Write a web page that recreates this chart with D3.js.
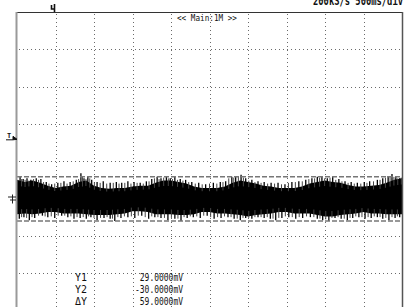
<!DOCTYPE html>
<html>
<head>
<meta charset="utf-8">
<script src="https://cdn.jsdelivr.net/npm/d3@7/dist/d3.min.js"></script>
<style>
  body { margin: 0; background: #fff; }
  svg { display: block; }
  text { font-family: "DejaVu Sans Mono", monospace; fill: #111; }
</style>
</head>
<body>
<div id="scope"></div>
<script>
// Screen settings
const timeDiv = 500;          // ms per division
const voltDiv = 50;           // mV per division
const hDivs = 10;
const cursorY1 = 29;          // mV
const cursorY2 = -30;         // mV
const triggerLevel = 82;      // mV

// Noise band, one sample every 100 ms (upper / lower edge of the dense core, mV)
const coreTop = [25, 22, 24, 21, 17, 14, 16, 17, 22, 24, 17, 14, 13, 14, 14, 16, 17, 17, 21, 24,
    24, 22, 20, 16, 14, 14, 14, 16, 21, 24, 22, 20, 17, 16, 14, 14, 14, 16, 20, 22,
    24, 22, 21, 18, 16, 16, 17, 18, 21, 25, 27];
const coreBot = [-21, -20, -21, -20, -18, -18, -20, -20, -20, -21, -22, -22, -22, -21, -20, -17, -17, -18, -21, -21,
    -21, -22, -22, -21, -18, -18, -20, -20, -21, -22, -24, -22, -21, -20, -18, -18, -20, -20, -20, -22,
    -24, -24, -22, -21, -20, -18, -20, -20, -21, -21, -21];

// Tall spikes sticking out of the band: [time ms, mV]
const spikesUp = [[40, 29], [80, 26], [130, 27], [180, 25], [250, 27], [310, 26], [380, 22], [450, 19],
    [530, 21], [610, 23], [690, 22], [770, 25], [830, 34], [870, 27], [920, 29], [970, 25], [1040, 22],
    [1120, 23], [1210, 21], [1290, 22], [1360, 21], [1440, 23], [1520, 22], [1600, 21], [1680, 23],
    [1750, 26], [1820, 29], [1870, 27], [1940, 30], [1990, 27], [2050, 29], [2120, 26], [2190, 25],
    [2270, 22], [2360, 21], [2450, 19], [2550, 21], [2640, 22], [2710, 23], [2790, 29], [2840, 30],
    [2910, 32], [2970, 27], [3050, 25], [3130, 23], [3210, 22], [3300, 21], [3390, 21], [3480, 19],
    [3570, 22], [3660, 23], [3750, 25], [3830, 27], [3900, 29], [3960, 30], [4030, 27], [4100, 29],
    [4180, 26], [4260, 23], [4340, 22], [4420, 21], [4510, 22], [4580, 23], [4680, 25], [4750, 27],
    [4820, 30], [4870, 33], [4920, 29], [4970, 27]];
const spikesDown = [[30, -27], [90, -25], [160, -29], [230, -26], [330, -23], [400, -25], [490, -26],
    [580, -23], [660, -25], [740, -27], [820, -26], [900, -27], [960, -25], [1040, -29], [1130, -26],
    [1210, -27], [1270, -30], [1350, -26], [1440, -25], [1530, -26], [1620, -23], [1710, -27], [1790, -25],
    [1870, -26], [1960, -29], [2050, -27], [2130, -30], [2210, -26], [2290, -25], [2380, -26], [2470, -23],
    [2560, -27], [2650, -26], [2740, -25], [2820, -27], [2900, -29], [2970, -26], [3050, -27], [3130, -25],
    [3210, -26], [3290, -27], [3360, -29], [3440, -26], [3530, -25], [3620, -27], [3710, -26], [3810, -25],
    [3900, -27], [3970, -29], [4050, -30], [4130, -26], [4210, -27], [4290, -29], [4360, -26], [4440, -25],
    [4520, -27], [4600, -26], [4680, -25], [4750, -27], [4830, -29], [4910, -26], [4970, -25]];

// Shorter spikes in between
const spikesUp2 = [[60, 26], [105, 25], [155, 24], [215, 26], [280, 25], [345, 22], [415, 20], [490, 20],
    [570, 21], [650, 20], [730, 23], [800, 26], [850, 29], [895, 26], [945, 27], [1005, 22], [1080, 21],
    [1165, 20], [1250, 21], [1325, 20], [1400, 21], [1480, 20], [1560, 21], [1640, 20], [1715, 23],
    [1785, 27], [1845, 26], [1905, 28], [1965, 27], [2020, 26], [2085, 25], [2155, 24], [2230, 22],
    [2315, 20], [2405, 19], [2500, 20], [2595, 20], [2675, 22], [2750, 27], [2815, 28], [2875, 29],
    [2940, 28], [3010, 24], [3090, 22], [3170, 21], [3255, 20], [3345, 20], [3435, 19], [3525, 21],
    [3615, 22], [3705, 23], [3790, 26], [3865, 27], [3930, 28], [3995, 27], [4065, 28], [4140, 25],
    [4220, 23], [4300, 21], [4380, 20], [4465, 20], [4545, 21], [4630, 23], [4715, 25], [4785, 28],
    [4845, 29], [4895, 29], [4945, 27], [4990, 28]];
const spikesDown2 = [[60, -25], [125, -26], [195, -25], [280, -23], [365, -24], [445, -24], [535, -23],
    [620, -23], [700, -24], [780, -25], [860, -25], [930, -24], [1000, -26], [1085, -26], [1170, -25],
    [1240, -27], [1310, -25], [1395, -24], [1485, -24], [1575, -23], [1665, -25], [1750, -24], [1830, -25],
    [1915, -26], [2005, -26], [2090, -27], [2170, -25], [2250, -24], [2335, -24], [2425, -23], [2515, -25],
    [2605, -25], [2695, -24], [2780, -25], [2860, -27], [2935, -26], [3010, -26], [3090, -25], [3170, -25],
    [3250, -25], [3325, -27], [3400, -26], [3485, -24], [3575, -25], [3665, -25], [3760, -24], [3855, -25],
    [3935, -27], [4010, -28], [4090, -26], [4170, -25], [4250, -27], [4325, -26], [4400, -24], [4480, -25],
    [4560, -25], [4640, -24], [4715, -25], [4790, -26], [4870, -25], [4940, -24]];

// Readout text
const headerText = '200kS/s  500ms/div';
const zoomText = '<< Main:1M >>';
const readLabels = ['Y1', 'Y2', '\u0394Y'];
const readValues = ['29.0000mV', '-30.0000mV', '59.0000mV'];

function drawScope() {
    const width = 411;
    const height = 307;
    const plot = { left: 17, right: 402, top: 12 };
    const divPx = 37.3;

    const x = d3.scaleLinear()
        .domain([0, timeDiv * hDivs])
        .range([plot.left, plot.right]);
    // 0 mV sits one division below the centre, +5 div at the top edge
    const y = d3.scaleLinear()
        .domain([5 * voltDiv, -3 * voltDiv])
        .range([plot.top, plot.top + 8 * divPx]);

    const svg = d3.select('#scope')
        .append('svg')
        .attr('width', width)
        .attr('height', height);

    svg.append('rect').attr('width', width).attr('height', height).attr('fill', '#fff');

    // Dotted grid
    const grid = svg.append('g')
        .attr('stroke', '#6a6a6a')
        .attr('stroke-width', 1)
        .attr('stroke-dasharray', '1,3');

    grid.selectAll('line.v')
        .data(d3.range(1, hDivs).map(i => i * timeDiv))
        .enter()
        .append('line')
        .attr('x1', d => Math.round(x(d)) + 0.5)
        .attr('x2', d => Math.round(x(d)) + 0.5)
        .attr('y1', plot.top + 2)
        .attr('y2', height);

    grid.selectAll('line.h')
        .data(d3.range(4, -3, -1).map(i => i * voltDiv))
        .enter()
        .append('line')
        .attr('x1', plot.left + 2)
        .attr('x2', plot.right)
        .attr('y1', d => Math.round(y(d)) + 0.5)
        .attr('y2', d => Math.round(y(d)) + 0.5);

    // Trace: dense core band
    const band = d3.area()
        .x((d, i) => x(i * 100))
        .y0((d, i) => y(coreBot[i]))
        .y1(d => y(d));

    svg.append('path')
        .datum(coreTop)
        .attr('d', band)
        .attr('fill', '#000');

    // Spikes, drawn from inside the band out to their peak
    const edgeAt = (arr, t) => {
        const i = Math.min(Math.floor(t / 100), arr.length - 2);
        return arr[i] + (arr[i + 1] - arr[i]) * (t / 100 - i);
    };
    const spikeSets = [
        { data: spikesUp2, edge: coreTop, color: '#444', w: 1 },
        { data: spikesDown2, edge: coreBot, color: '#444', w: 1 },
        { data: spikesUp, edge: coreTop, color: '#000', w: 1.3 },
        { data: spikesDown, edge: coreBot, color: '#000', w: 1.3 }
    ];

    spikeSets.forEach(set => {
        svg.append('g')
            .selectAll('line')
            .data(set.data)
            .enter()
            .append('line')
            .attr('x1', d => x(d[0]))
            .attr('x2', d => x(d[0]))
            .attr('y1', d => y(edgeAt(set.edge, d[0]) * 0.7))
            .attr('y2', d => y(d[1]))
            .attr('stroke', set.color)
            .attr('stroke-width', set.w);
    });

    // Cursor lines
    svg.append('g')
        .selectAll('line')
        .data([cursorY1, cursorY2])
        .enter()
        .append('line')
        .attr('x1', plot.left)
        .attr('x2', plot.right)
        .attr('y1', d => y(d))
        .attr('y2', d => y(d))
        .attr('stroke', '#777')
        .attr('stroke-width', 1.5)
        .attr('stroke-dasharray', '5,2');

    // Frame
    svg.append('line')
        .attr('x1', plot.left).attr('x2', plot.right)
        .attr('y1', plot.top + 0.5).attr('y2', plot.top + 0.5)
        .attr('stroke', '#333');
    svg.append('rect')
        .attr('x', plot.left - 1.5).attr('y', plot.top)
        .attr('width', 2).attr('height', height - plot.top)
        .attr('fill', '#9a9a9a');
    svg.append('line')
        .attr('x1', plot.right + 0.5).attr('x2', plot.right + 0.5)
        .attr('y1', plot.top).attr('y2', height)
        .attr('stroke', '#555').attr('stroke-width', 1.5);

    // Trigger position marker (top)
    const tx = x(timeDiv) - 1;
    svg.append('path')
        .attr('d', `M${tx - 3},5 v4 h3 M${tx},4 v8`)
        .attr('stroke', '#111').attr('stroke-width', 1.6).attr('fill', 'none');

    // Trigger level marker (left)
    const ty = y(triggerLevel);
    svg.append('text')
        .attr('x', 7).attr('y', ty + 1)
        .style('font-size', '7px').style('font-weight', 'bold')
        .text('T');
    svg.append('path')
        .attr('d', `M6,${ty + 2.5} H13 M13,${ty - 1} L17,${ty + 2} L13,${ty + 2.5} Z`)
        .attr('stroke', '#111').attr('stroke-width', 1).attr('fill', '#111');

    // Ground marker (left)
    const gy = y(0);
    svg.append('path')
        .attr('d', `M8,${gy - 1.5} H16 M10,${gy + 1.5} H16 M12.5,${gy - 4} V${gy + 5}`)
        .attr('stroke', '#222').attr('stroke-width', 1).attr('fill', 'none');

    // Header texts
    svg.append('text')
        .attr('x', 403).attr('y', 5)
        .attr('text-anchor', 'end')
        .attr('textLength', 90).attr('lengthAdjust', 'spacingAndGlyphs')
        .style('font-size', '12px').style('font-weight', 'bold')
        .text(headerText);

    svg.append('text')
        .attr('x', 207).attr('y', 21)
        .attr('text-anchor', 'middle')
        .attr('textLength', 60).attr('lengthAdjust', 'spacingAndGlyphs')
        .style('font-size', '8px')
        .text(zoomText);

    // Cursor readout
    const rows = svg.append('g').style('font-size', '10px');
    rows.selectAll('text.lab')
        .data(readLabels)
        .enter()
        .append('text')
        .attr('x', 75)
        .attr('y', (d, i) => 281 + i * 12)
        .attr('textLength', 12).attr('lengthAdjust', 'spacingAndGlyphs')
        .text(d => d);
    rows.selectAll('text.val')
        .data(readValues)
        .enter()
        .append('text')
        .attr('x', 183)
        .attr('y', (d, i) => 281 + i * 12)
        .attr('text-anchor', 'end')
        .attr('textLength', d => d.length * 4.8).attr('lengthAdjust', 'spacingAndGlyphs')
        .text(d => d);
}

document.addEventListener('DOMContentLoaded', drawScope);
</script>
</body>
</html>
